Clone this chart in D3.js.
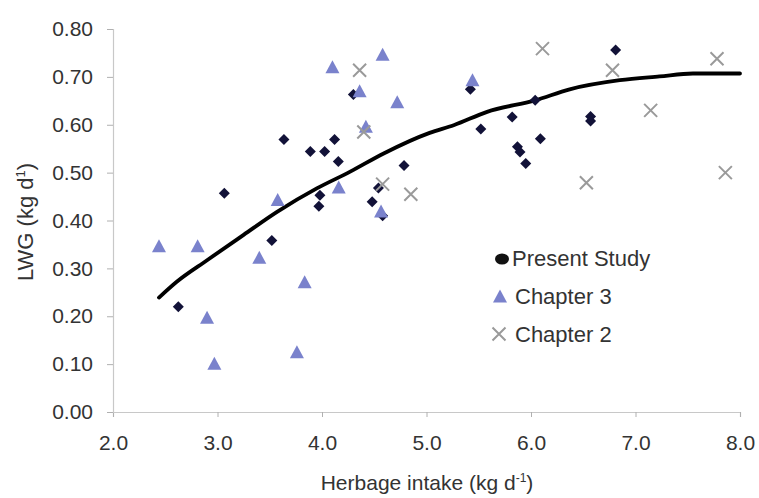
<!DOCTYPE html>
<html><head><meta charset="utf-8">
<script src="https://cdn.jsdelivr.net/npm/d3@7"></script>
<style>body{margin:0;background:#fff}svg{display:block}text{font-family:"Liberation Sans",Arial,sans-serif;fill:#333}</style>
</head><body>
<svg id="c" width="759" height="498"></svg>
<script>
const xTicks = [2,3,4,5,6,7,8];
const yTicks = [0,0.1,0.2,0.3,0.4,0.5,0.6,0.7,0.8];
const presentStudy = [
  [3.065,0.457],[3.636,0.569],[3.888,0.544],[4.025,0.544],[4.12,0.569],[4.156,0.523],
  [4.30,0.663],[4.785,0.515],[3.98,0.453],[3.97,0.430],[4.48,0.439],[4.54,0.468],
  [4.58,0.410],[3.52,0.358],[2.625,0.220],[5.42,0.674],[5.52,0.591],[5.82,0.616],
  [6.04,0.651],[5.87,0.554],[5.895,0.543],[5.95,0.519],[6.09,0.571],[6.57,0.617],
  [6.57,0.608],[6.81,0.756]
];
const chapter3 = [
  [4.10,0.721],[4.58,0.747],[4.36,0.671],[4.72,0.648],[4.42,0.597],[4.16,0.470],
  [3.576,0.444],[4.565,0.420],[5.44,0.694],[2.44,0.347],[2.81,0.347],[3.40,0.323],
  [3.834,0.272],[2.90,0.198],[2.97,0.102],[3.76,0.126]
];
const chapter2 = [
  [4.36,0.714],[4.40,0.585],[4.58,0.476],[4.85,0.455],[6.11,0.759],[6.78,0.714],
  [7.78,0.738],[7.145,0.630],[6.53,0.479],[7.86,0.500]
];
const trend = [
  [2.44,0.239],[2.61,0.272],[2.90,0.317],[3.25,0.370],[3.57,0.418],[3.95,0.467],
  [4.27,0.502],[4.59,0.540],[5.03,0.583],[5.26,0.599],[5.58,0.627],[6.04,0.651],
  [6.37,0.674],[6.85,0.693],[7.23,0.701],[7.55,0.707],[8.0,0.707]
];
const legendItems = ["Present Study","Chapter 3","Chapter 2"];

const svg = d3.select("#c");
const x = d3.scaleLinear().domain([2,8]).range([113,740]);
const y = d3.scaleLinear().domain([0,0.8]).range([412,29]);

// axes
const xa = svg.append("g").attr("transform","translate(0,412)")
  .call(d3.axisBottom(x).tickValues(xTicks).tickSize(5).tickPadding(18).tickFormat(d3.format(".1f")));
const ya = svg.append("g").attr("transform","translate(113,0)")
  .call(d3.axisLeft(y).tickValues(yTicks).tickSize(6).tickPadding(14).tickFormat(d3.format(".2f")));
[xa,ya].forEach(a=>{
  a.select(".domain").attr("stroke","#c8c8c8").attr("stroke-width",1.2);
  a.selectAll(".tick line").attr("stroke","#b0b0b0");
  a.selectAll(".tick text").style("font-size","21px").attr("fill","#333");
});

const col3 = "#7a82cc", colP = "#121238", col2 = "#9a9a9a";
const diamond = (cx,cy,r)=>`M${cx},${cy-r}L${cx+r},${cy}L${cx},${cy+r}L${cx-r},${cy}Z`;
const tri = (cx,cy,w,h)=>`M${cx},${cy-h/2}L${cx+w/2},${cy+h/2}L${cx-w/2},${cy+h/2}Z`;
const cross = (cx,cy,r)=>`M${cx-r},${cy-r}L${cx+r},${cy+r}M${cx-r},${cy+r}L${cx+r},${cy-r}`;

// trend line
svg.append("path").datum(trend)
  .attr("d", d3.line().x(d=>x(d[0])).y(d=>y(d[1])).curve(d3.curveMonotoneX))
  .attr("fill","none").attr("stroke","#000").attr("stroke-width",3.8).attr("stroke-linecap","round");

svg.append("g").selectAll("path").data(presentStudy).join("path")
  .attr("d",d=>diamond(x(d[0]),y(d[1]),5.5)).attr("fill",colP);
svg.append("g").selectAll("path").data(chapter3).join("path")
  .attr("d",d=>tri(x(d[0]),y(d[1]),14,13)).attr("fill",col3);
svg.append("g").selectAll("path").data(chapter2).join("path")
  .attr("d",d=>cross(x(d[0]),y(d[1]),6.5)).attr("stroke",col2).attr("stroke-width",2).attr("fill","none");

// legend
const lg = svg.append("g");
const ly = [258,296,334];
lg.append("ellipse").attr("cx",502).attr("cy",ly[0]+1).attr("rx",7).attr("ry",5.5).attr("fill","#111");
lg.append("path").attr("d",tri(500,ly[1],14,13)).attr("fill",col3);
lg.append("path").attr("d",cross(499,ly[2],6.5)).attr("stroke",col2).attr("stroke-width",2).attr("fill","none");
lg.selectAll("text").data(legendItems).join("text")
  .attr("x",(d,i)=>i===0?512:515).attr("y",(d,i)=>ly[i]+8).style("font-size","22px").attr("fill","#222").text(d=>d);

// axis titles
const xt = svg.append("text").attr("x",427).attr("y",490).attr("text-anchor","middle").style("font-size","21px").attr("fill","#333");
xt.append("tspan").text("Herbage intake (kg d");
xt.append("tspan").attr("dy",-8).style("font-size","12px").text("-1");
xt.append("tspan").attr("dy",8).text(")");
const yt = svg.append("text").attr("transform","translate(33,222) rotate(-90)").attr("text-anchor","middle").style("font-size","22px").attr("fill","#333");
yt.append("tspan").text("LWG (kg d");
yt.append("tspan").attr("dy",-8).style("font-size","13px").text("1");
yt.append("tspan").attr("dy",8).text(")");
</script>
</body></html>
